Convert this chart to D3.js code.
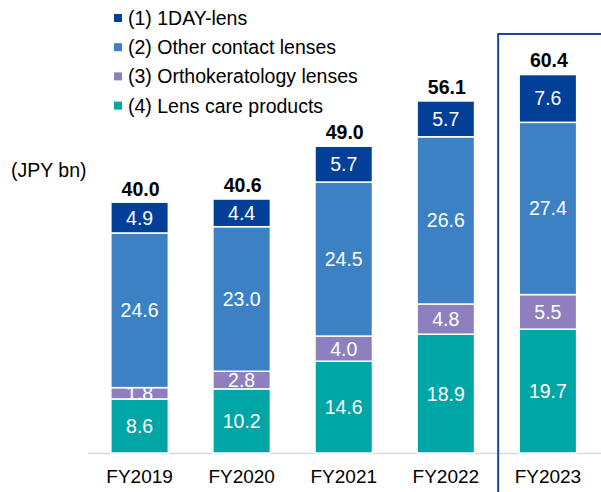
<!DOCTYPE html>
<html>
<head>
<meta charset="utf-8">
<script src="https://cdn.jsdelivr.net/npm/d3@7"></script>
<style>
  html, body { margin: 0; padding: 0; background: #fff; }
  svg { display: block; font-family: "Liberation Sans", Arial, sans-serif; }
</style>
</head>
<body>
<svg id="chart" width="601" height="492"></svg>
<script>
const years = ["FY2019", "FY2020", "FY2021", "FY2022", "FY2023"];
const seriesNames = ["(1) 1DAY-lens", "(2) Other contact lenses", "(3) Orthokeratology lenses", "(4) Lens care products"];
const oneDay = [4.9, 4.4, 5.7, 5.7, 7.6];
const otherLenses = [24.6, 23.0, 24.5, 26.6, 27.4];
const orthoK = [1.8, 2.8, 4.0, 4.8, 5.5];
const lensCare = [8.6, 10.2, 14.6, 18.9, 19.7];
const totals = [40.0, 40.6, 49.0, 56.1, 60.4];
const colors = ["#023f99", "#3b81c4", "#8f7fbf", "#00a5a6"];
const unitLabel = "(JPY bn)";
const highlightYear = "FY2023";

const svg = d3.select("#chart");

const x = d3.scaleBand().domain(years).range([88.5, 599]).paddingInner(0.437).paddingOuter(0.219);
const y = d3.scaleLinear().domain([0, 60.4]).range([453, 73.3]);

const rows = years.map((yr, i) => ({
  year: yr, s0: lensCare[i], s1: orthoK[i], s2: otherLenses[i], s3: oneDay[i]
}));
const keys = ["s0", "s1", "s2", "s3"];
const stackColors = [colors[3], colors[2], colors[1], colors[0]];
const stacked = d3.stack().keys(keys)(rows);

svg.append("line")
  .attr("x1", 88).attr("x2", 601)
  .attr("y1", y(0) + 0.5).attr("y2", y(0) + 0.5)
  .attr("stroke", "#d9d9d9").attr("stroke-width", 1.5);

const layers = svg.append("g").selectAll("g").data(stacked).join("g")
  .attr("fill", (d, i) => stackColors[i]);

layers.selectAll("rect").data(d => d).join("rect")
  .attr("x", d => x(d.data.year))
  .attr("width", x.bandwidth())
  .attr("y", d => y(d[1]))
  .attr("height", d => y(d[0]) - y(d[1]))
  .attr("stroke", "#fff").attr("stroke-width", 1.5);

layers.selectAll("text").data(d => d.map(v => Object.assign({}, v, { key: d.key }))).join("text")
  .attr("x", d => x(d.data.year) + x.bandwidth() / 2)
  .attr("y", d => (y(d[0]) + y(d[1])) / 2)
  .attr("dy", "0.36em")
  .attr("text-anchor", "middle")
  .attr("fill", "#fff")
  .attr("font-size", "19.5px")
  .text(d => d.data[d.key].toFixed(1));

svg.append("g").selectAll("text").data(years).join("text")
  .attr("x", d => x(d) + x.bandwidth() / 2 + 1)
  .attr("y", (d, i) => y(totals[i]) - 6)
  .attr("text-anchor", "middle")
  .attr("font-weight", "bold")
  .attr("font-size", "19.5px")
  .attr("fill", "#000")
  .text((d, i) => totals[i].toFixed(1));

svg.append("g").selectAll("text").data(years).join("text")
  .attr("x", d => x(d) + x.bandwidth() / 2)
  .attr("y", 483)
  .attr("text-anchor", "middle")
  .attr("font-size", "19px")
  .attr("fill", "#000")
  .text(d => d);

svg.append("text")
  .attr("x", 11).attr("y", 176.5)
  .attr("font-size", "19.5px")
  .attr("fill", "#000")
  .text(unitLabel);

const hx = x(highlightYear) - 21;
svg.append("rect")
  .attr("x", hx).attr("y", 34)
  .attr("width", 620 - hx).attr("height", 480)
  .attr("fill", "none")
  .attr("stroke", "#1744a0").attr("stroke-width", 2);

const legend = svg.append("g").selectAll("g").data(seriesNames).join("g")
  .attr("transform", (d, i) => `translate(114, ${25 + i * 29.2})`);
legend.append("rect")
  .attr("x", 0).attr("y", -11).attr("width", 8).attr("height", 8)
  .attr("fill", (d, i) => colors[i]);
legend.append("text")
  .attr("x", 14).attr("y", 0)
  .attr("font-size", "19.5px")
  .attr("fill", "#000")
  .text(d => d);
</script>
</body>
</html>
